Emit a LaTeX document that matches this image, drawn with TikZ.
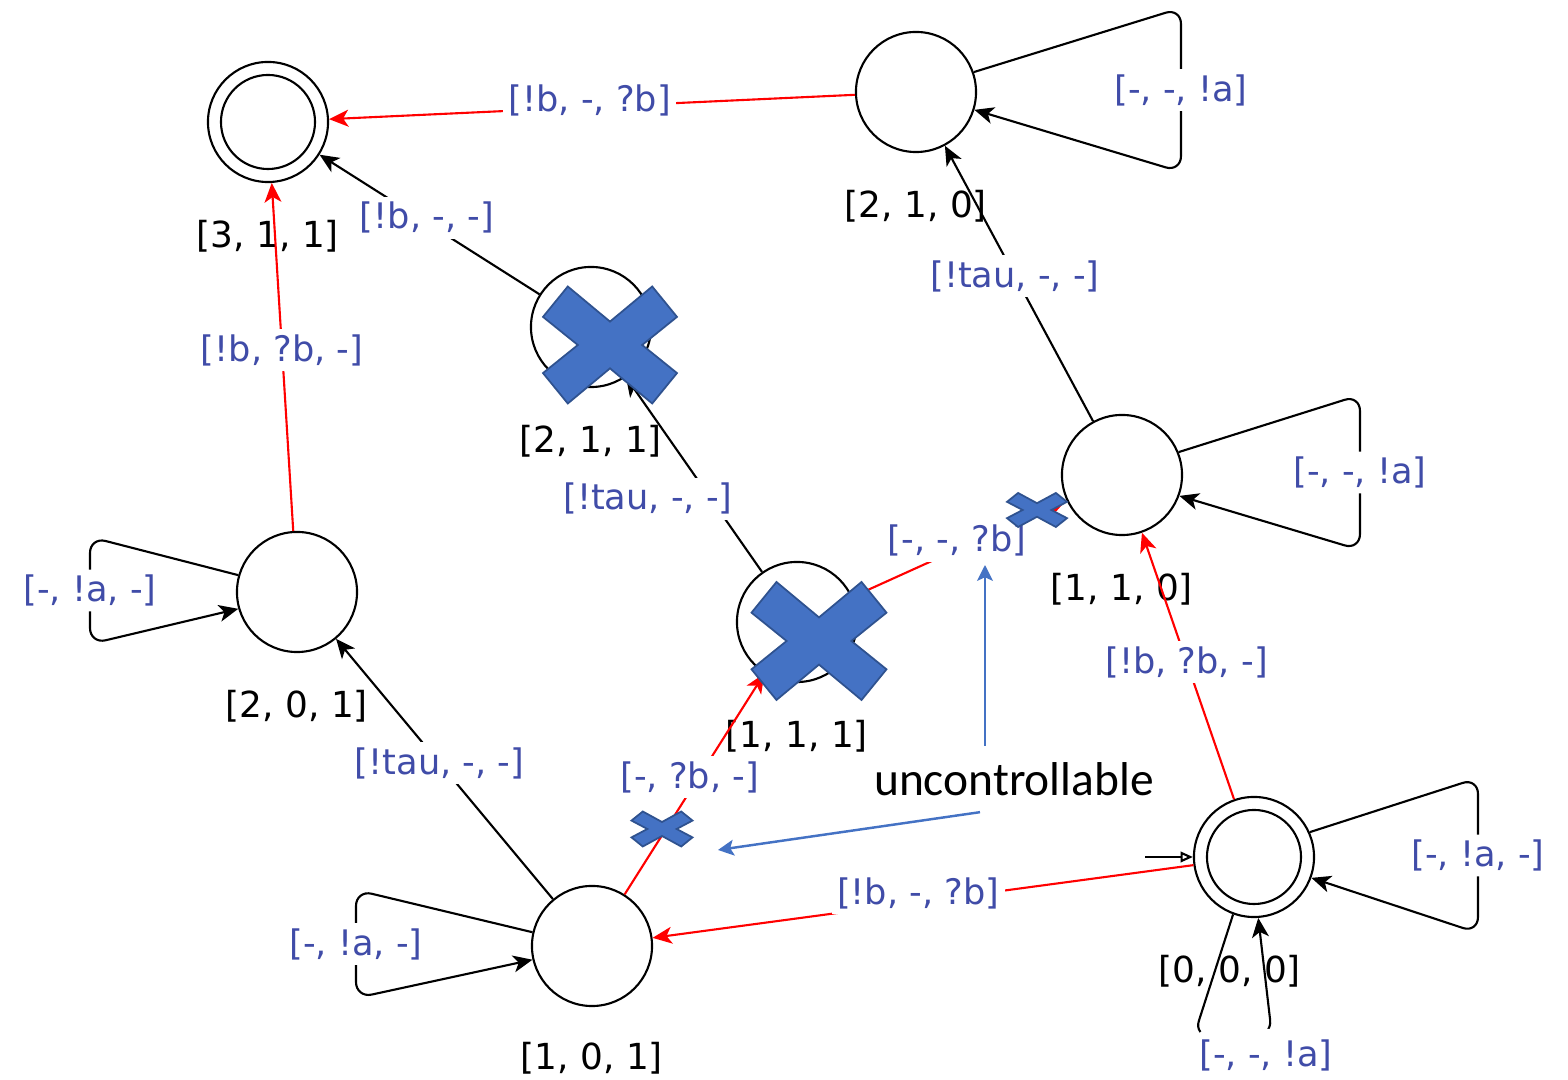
\documentclass[tikz,border=0pt]{standalone}
\usepackage{fontspec}
\setmainfont{DejaVu Sans}
\newfontfamily\calfont{Carlito}
\usetikzlibrary{arrows.meta,positioning}
\definecolor{lblblue}{RGB}{64,76,168}
\definecolor{xblue}{RGB}{68,114,196}
\definecolor{xline}{RGB}{47,82,143}
\tikzset{
  st/.style     = {draw, circle, line width=0.6pt, minimum size=1.2cm, inner sep=0pt},
  acc/.style    = {st, path picture={\draw[line width=0.6pt]
                     (path picture bounding box.center) circle (0.47cm);}},
  slbl/.style   = {font=\fontsize{10.2}{12}\selectfont, inner sep=0pt},
  elbl/.style   = {font=\fontsize{10}{12}\selectfont, text=lblblue, fill=white, inner sep=1.5pt},
  ar/.style     = {-{Stealth[length=5.5pt,width=4.8pt,inset=1.5pt]}, line width=0.6pt},
  rar/.style    = {ar, red},
  loopar/.style = {ar, rounded corners=1.6mm},
  uar/.style    = {-{Stealth[length=4.5pt,width=4.5pt,inset=1pt]}, line width=0.7pt, xblue},
  crossmark/.pic = {
    \filldraw[fill=xblue, draw=xline, line width=0.5pt]
      (-1,-0.48) -- (-0.63,-1) -- (0,-0.4) -- (0.63,-1) -- (1,-0.48) -- (0.48,0)
      -- (1,0.48) -- (0.63,1) -- (0,0.4) -- (-0.63,1) -- (-1,0.48) -- (-0.48,0) -- cycle;
  }
}

\begin{document}
\begin{tikzpicture}[x=0.01cm, y=-0.01cm]
\useasboundingbox (0,0) rectangle (1568,1080);

% ---- states ----
\node[acc] (s311) at (268,122)  {};
\node[st]  (s210) at (916,92)   {};
\node[st]  (s211) at (591,327)  {};
\node[st]  (s201) at (297,592)  {};
\node[st]  (s111) at (797,622)  {};
\node[st]  (s110) at (1122,475) {};
\node[st]  (s101) at (592,946)  {};
\node[acc] (s000) at (1254,857) {};

% ---- state names ----
\node[slbl, below=3.6mm of s311] (n311) {[3, 1, 1]};
\node[slbl, below=3.6mm of s210] (n210) {[2, 1, 0]};
\node[slbl, below=3.6mm of s211] (n211) {[2, 1, 1]};
\node[slbl, below=3.6mm of s201] (n201) {[2, 0, 1]};
\node[slbl, below=3.6mm of s111] (n111) {[1, 1, 1]};
\node[slbl, below=3.6mm of s110] (n110) {[1, 1, 0]};
\node[slbl, below=3.4mm of s101] (n101) {[1, 0, 1]};
\node[slbl, below=3.6mm of s000, xshift=-2.4mm] (n000) {[0, 0, 0]};

% ---- transitions ----
\draw[rar] (s210) -- node[elbl, pos=0.504, yshift=0.7mm] (t1) {[!b, -, ?b]} (s311);
\draw[ar]  (s211) -- node[elbl, pos=0.512, yshift=0.5mm] (t2) {[!b, -, -]} (s311);
\draw[rar] (s201) -- node[elbl, pos=0.52] (t3) {[!b, ?b, -]} (s311);
\draw[ar]  (s110) -- node[elbl, pos=0.527] (t4) {[!tau, -, -]} (s210);
\draw[ar]  (s111) -- node[elbl, pos=0.375, xshift=-6.3mm] (t5) {[!tau, -, -]} (s211);
\draw[ar]  (s101) -- node[elbl, pos=0.523] (t6) {[!tau, -, -]} (s201);
\draw[rar] (s101) -- node[elbl, pos=0.531, xshift=-0.9mm] (t7) {[-, ?b, -]} (s111);
\draw[rar] (s111) -- node[elbl, pos=0.488, yshift=0.9mm] (t8) {[-, -, ?b]} (s110);
\draw[rar] (s000) -- node[elbl, pos=0.515] (t9) {[!b, ?b, -]} (s110);
\draw[rar] (s000) -- node[elbl, pos=0.509, yshift=0.9mm] (t10) {[!b, -, ?b]} (s101);

% ---- self loops ----
\draw[loopar] (s210.19) -- (1181,8) -- node[elbl] (l210) {[-, -, !a]} (1181,172) -- (s210.-17);
\draw[loopar] (s110.22) -- (1360,395) -- node[elbl] (l110) {[-, -, !a]} (1360,550) -- (s110.-20);
\draw[loopar] (s000.24) -- (1478,778) -- node[elbl] (l000a) {[-, !a, -]} (1478,933) -- (s000.-20);
\draw[loopar] (s000.-110) -- (1194,1036) -- node[elbl, inner ysep=3pt, xshift=3.3mm, yshift=-1.9mm] (l000b) {[-, -, !a]} (1272,1036) -- (s000.-86);
\draw[loopar] (s201.164) -- (90,537) -- node[elbl] (l201) {[-, !a, -]} (90,644) -- (s201.-164);
\draw[loopar] (s101.167) -- (356,890) -- node[elbl] (l101) {[-, !a, -]} (356,998) -- (s101.-167);

% ---- initial ----
\coordinate (init) at (1145,857);
\draw[-{Triangle[open,length=3.5pt,width=3pt]}, line width=0.6pt] (init) -- (s000.west);

% ---- annotation ----
\node[font=\calfont\fontsize{13.5}{16}\selectfont, inner xsep=1pt, inner ysep=4.5pt] (unc) at (1014,779) {uncontrollable};
\coordinate (tipA) at (985,565);
\coordinate (tipB) at (718,850);
\coordinate (srcB) at (980,810);
\draw[uar] (unc.north -| tipA) -- (tipA);
\draw[uar] (unc.south -| srcB) -- (tipB);

% ---- crossed out ----
\pic[xscale=67, yscale=58.5] (x211) at (610,345) {crossmark};
\pic[xscale=67.5, yscale=59] (x111) at (819,641) {crossmark};
\pic[xscale=30, yscale=17] (x8) at (1037,510) {crossmark};
\pic[xscale=30.5, yscale=17.5] (x7) at (662,829) {crossmark};
\end{tikzpicture}
\end{document}
